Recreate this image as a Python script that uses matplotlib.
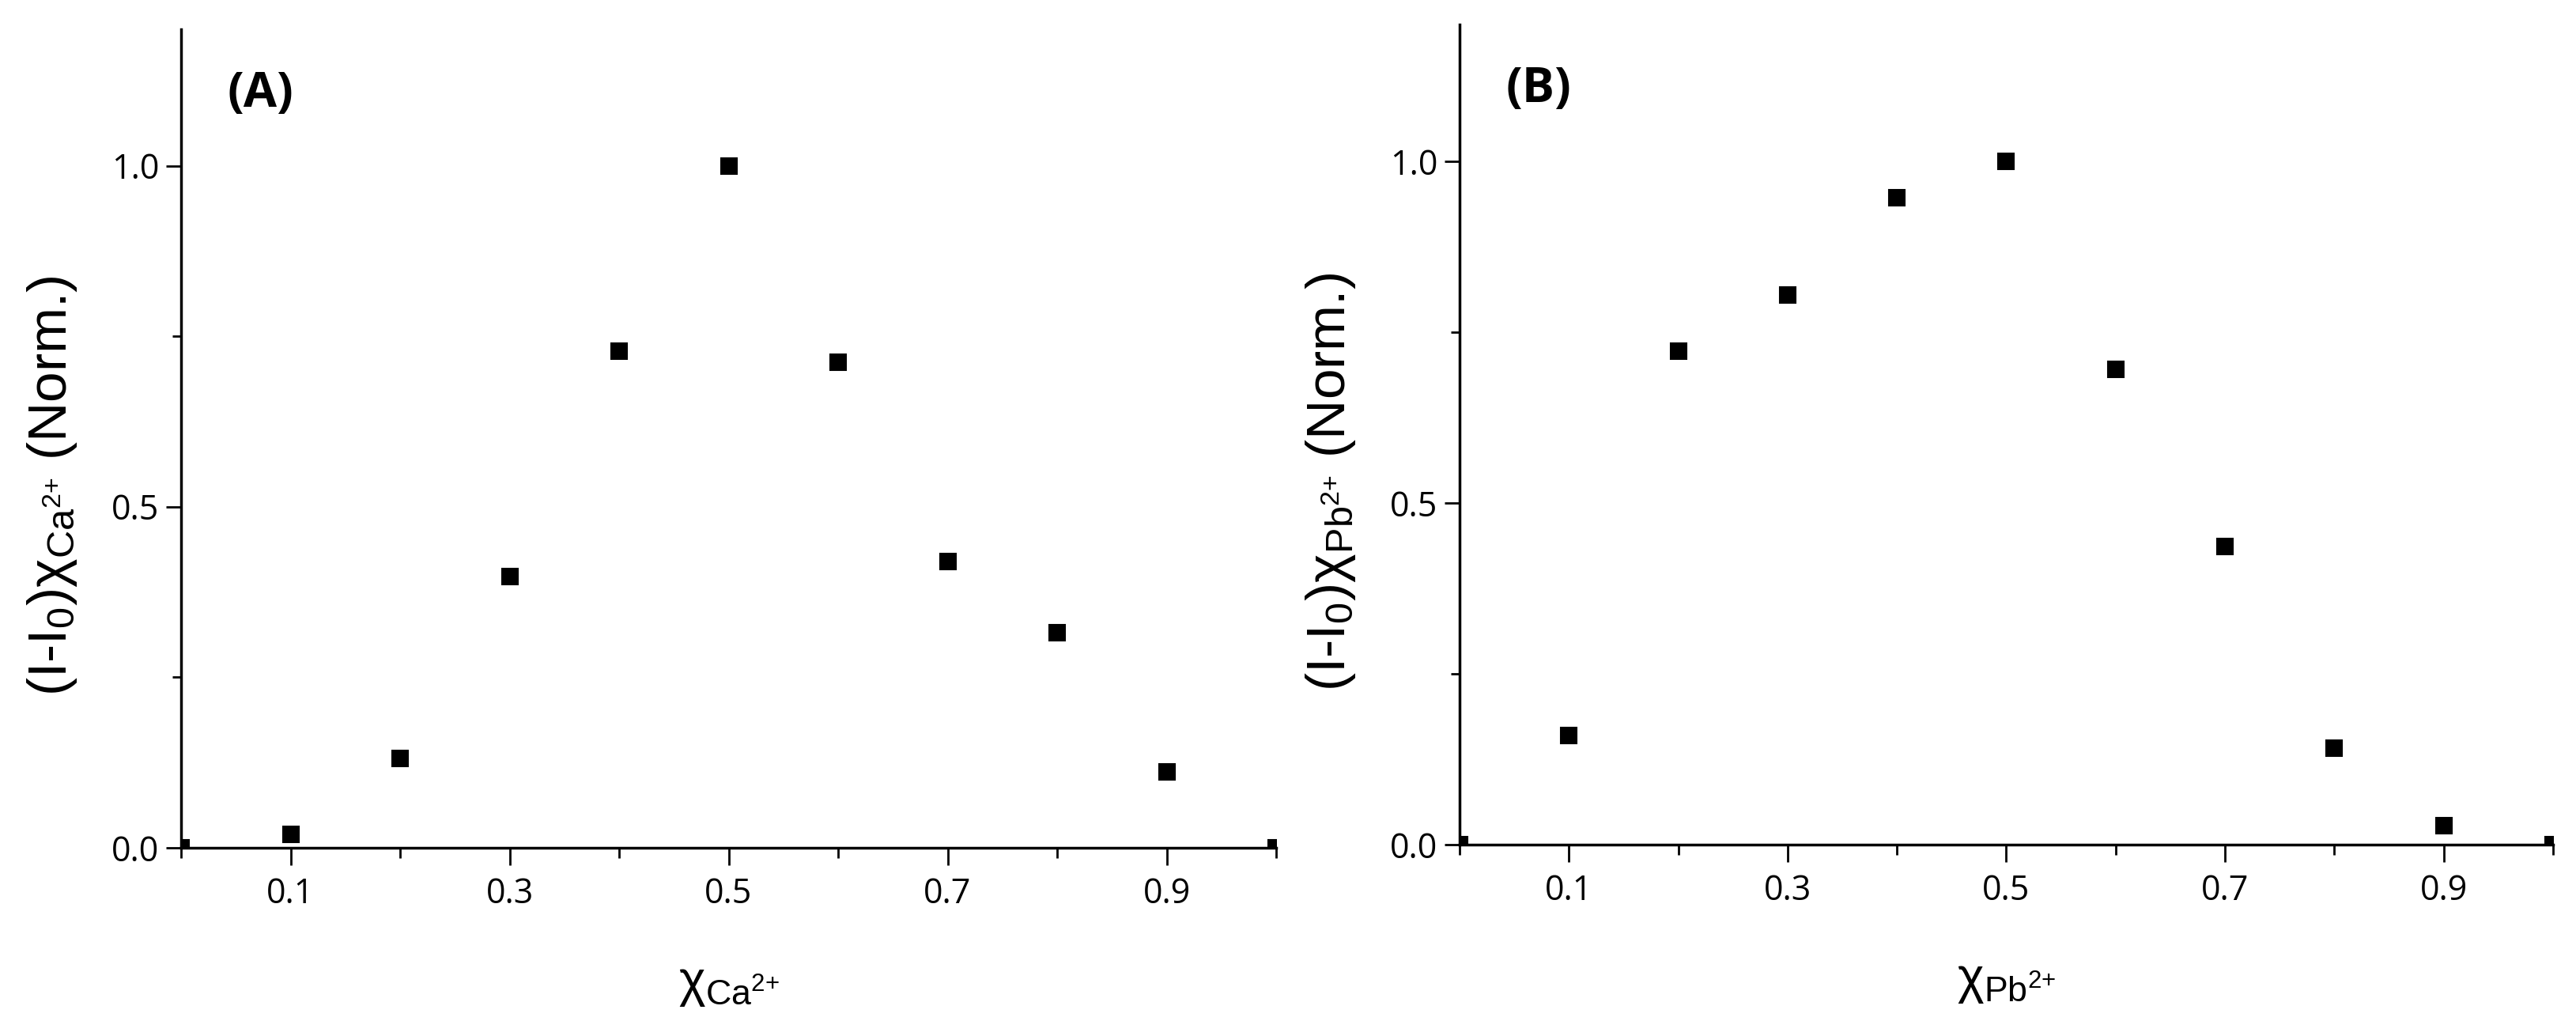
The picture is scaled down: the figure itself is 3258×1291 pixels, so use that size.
import matplotlib
matplotlib.use('Agg')
import matplotlib.pyplot as plt
from matplotlib.ticker import FixedLocator

# mole fraction of the metal ion
x_frac = [0.0, 0.1, 0.2, 0.3, 0.4, 0.5, 0.6, 0.7, 0.8, 0.9, 1.0]

# normalised (I-I0)*chi
job_ca = [0.0, 0.020, 0.131, 0.398, 0.728, 1.0, 0.712, 0.420, 0.315, 0.111, 0.0]
job_pb = [0.0, 0.160, 0.722, 0.804, 0.947, 1.0, 0.696, 0.436, 0.141, 0.028, 0.0]

x_major = [0.1, 0.3, 0.5, 0.7, 0.9]
x_minor = [0.0, 0.2, 0.4, 0.6, 0.8, 1.0]
y_major = [0.0, 0.5, 1.0]
y_minor = [0.25, 0.75]

panels = [
    ('(A)', 'Ca', job_ca),
    ('(B)', 'Pb', job_pb),
]

plt.rcParams['mathtext.fontset'] = 'custom'
plt.rcParams['mathtext.rm'] = 'Liberation Sans'
plt.rcParams['mathtext.it'] = 'Liberation Sans:italic'

fig = plt.figure(figsize=(32.58, 12.91), dpi=100)
boxes = [
    [0.0703, 0.1697, 0.4251, 0.8016],
    [0.5666, 0.1727, 0.4245, 0.8033],
]

for (tag, ion, vals), box in zip(panels, boxes):
    ax = fig.add_axes(box)
    ax.plot(x_frac, vals, linestyle='none', marker='s', ms=14, mew=1.5,
            color='black')
    ax.set_xlim(0, 1.0)
    ax.set_ylim(0, 1.2)

    for side in ['top', 'right']:
        ax.spines[side].set_visible(False)
    for side in ['left', 'bottom']:
        ax.spines[side].set_linewidth(2.5)

    ax.xaxis.set_major_locator(FixedLocator(x_major))
    ax.xaxis.set_minor_locator(FixedLocator(x_minor))
    ax.yaxis.set_major_locator(FixedLocator(y_major))
    ax.yaxis.set_minor_locator(FixedLocator(y_minor))
    ax.set_xticklabels(['%.1f' % v for v in x_major])
    ax.set_yticklabels(['%.1f' % v for v in y_major])

    ax.tick_params(axis='x', which='major', direction='out', length=16,
                   width=2, pad=10)
    ax.tick_params(axis='x', which='minor', direction='out', length=9,
                   width=2)
    ax.tick_params(axis='y', which='major', direction='out', length=14,
                   width=2, pad=6)
    ax.tick_params(axis='y', which='minor', direction='out', length=8,
                   width=2)
    for lab in ax.get_xticklabels() + ax.get_yticklabels():
        lab.set_family('Open Sans')
        lab.set_fontsize(31)

    sub = r'$_{\mathrm{%s}^{\mathrm{2{+}}}}$' % ion
    ax.set_ylabel(r'(I-I$_\mathrm{0}$)χ' + sub + ' (Norm.)',
                  family='Liberation Sans', fontsize=50, va='center')
    ax.yaxis.set_label_coords(-0.118, 0.442)
    ax.set_xlabel('χ' + sub, family='Liberation Sans', fontsize=46,
                  va='center')
    ax.xaxis.set_label_coords(0.5, -0.167)

    ax.text(0.042, 0.92, tag, transform=ax.transAxes, family='Open Sans',
            fontweight='bold', fontsize=44, ha='left', va='center')

fig.savefig('out.png', dpi=100)
